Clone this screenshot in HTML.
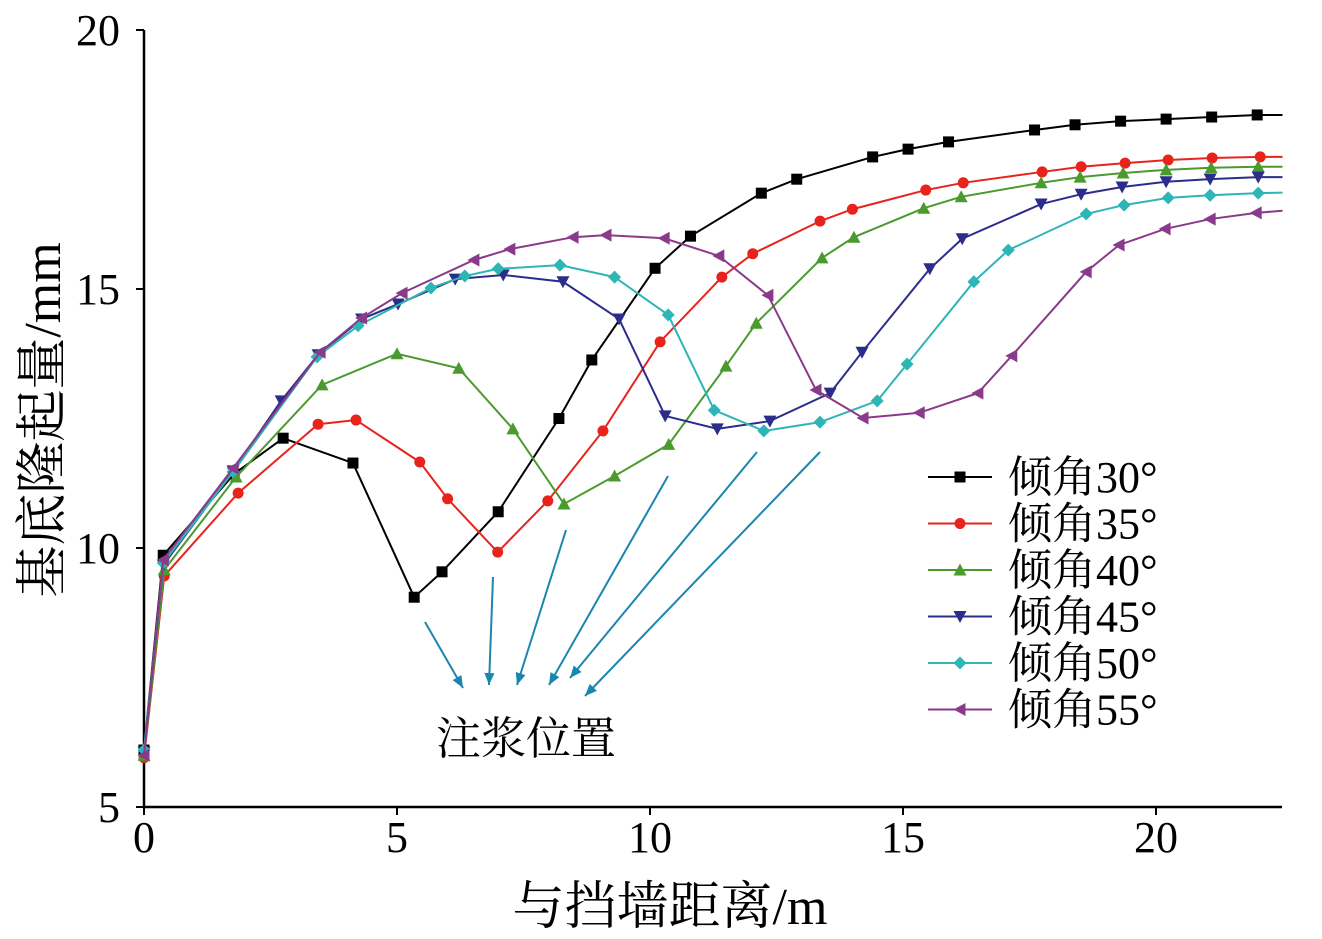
<!DOCTYPE html>
<html><head><meta charset="utf-8"><style>
html,body{margin:0;padding:0;background:#fff;}
svg{display:block;font-family:"Liberation Serif","Noto Serif CJK SC","Noto Sans CJK SC",serif;}
</style></head><body>
<svg id="chart" width="1322" height="939" viewBox="0 0 1322 939" xmlns="http://www.w3.org/2000/svg"></svg>
<script>
const xTicks=[0,5,10,15,20];
const yTicks=[5,10,15,20];
const seriesNames=["倾角30°","倾角35°","倾角40°","倾角45°","倾角50°","倾角55°"];
const x30=[0,0.38,1.78,2.75,4.13,5.34,5.89,7.0,8.2,8.85,10.1,10.8,12.2,12.9,14.4,15.1,15.9,17.6,18.4,19.3,20.2,21.1,22.0,22.5];
const y30=[6.1,9.86,11.43,12.12,11.64,9.05,9.54,10.7,12.5,13.63,15.4,16.02,16.85,17.12,17.55,17.7,17.84,18.07,18.17,18.24,18.28,18.32,18.36,18.36];
const x35=[0,0.4,1.86,3.44,4.19,5.45,6.0,6.99,7.98,9.07,10.2,11.42,12.03,13.36,14.0,15.45,16.19,17.75,18.52,19.39,20.24,21.11,22.06,22.5];
const y35=[5.95,9.46,11.06,12.39,12.47,11.66,10.95,9.92,10.91,12.26,13.98,15.23,15.68,16.31,16.54,16.91,17.05,17.26,17.36,17.43,17.49,17.53,17.55,17.55];
const x40=[0,0.4,1.82,3.52,5.0,6.22,7.29,8.3,9.3,10.37,11.5,12.1,13.4,14.03,15.41,16.15,17.73,18.5,19.35,20.2,21.09,22.02,22.5];
const y40=[6.0,9.58,11.37,13.15,13.75,13.47,12.3,10.85,11.39,12.0,13.51,14.34,15.6,16.0,16.56,16.78,17.05,17.16,17.24,17.3,17.34,17.36,17.36];
const x45=[0,0.38,1.76,2.71,3.44,4.3,5.02,6.15,7.1,8.28,9.39,10.3,11.33,12.37,13.56,14.19,15.53,16.17,17.73,18.52,19.33,20.2,21.07,22.02,22.5];
const y45=[6.06,9.67,11.49,12.84,13.73,14.42,14.71,15.19,15.27,15.14,14.42,12.55,12.3,12.45,12.99,13.78,15.39,15.97,16.64,16.83,16.97,17.07,17.12,17.16,17.16];
const x50=[0,0.38,1.76,3.42,4.23,5.67,6.34,7.0,8.22,9.3,10.36,11.27,12.25,13.36,14.49,15.08,16.4,17.08,18.62,19.37,20.24,21.07,22.02,22.5];
const y50=[6.1,9.71,11.47,13.69,14.29,15.02,15.25,15.39,15.46,15.23,14.5,12.66,12.26,12.43,12.84,13.55,15.14,15.75,16.45,16.62,16.76,16.81,16.85,16.86];
const x55=[0,0.38,1.76,3.48,4.3,5.1,6.52,7.23,8.48,9.13,10.28,11.36,12.33,13.28,14.21,15.32,16.48,17.15,18.62,19.27,20.18,21.07,21.98,22.5];
const y55=[6.0,9.77,11.54,13.78,14.44,14.92,15.56,15.77,16.0,16.04,15.98,15.64,14.88,13.05,12.51,12.61,12.99,13.71,15.33,15.85,16.16,16.35,16.47,16.51];
const xs=[x30,x35,x40,x45,x50,x55], ys=[y30,y35,y40,y45,y50,y55];
const colors=["#000000","#e8231c","#4a9a2e","#2c2c8a","#2eb5b5","#8a3a8a"];
const markers=["square","circle","up","down","diamond","left"];
const NS="http://www.w3.org/2000/svg";
const svg=document.getElementById('chart');
const X=v=>144+v*50.6, Y=v=>30+(20-v)*51.8;
function mk(t,a,p){const e=document.createElementNS(NS,t);for(const k in a)e.setAttribute(k,a[k]);(p||svg).appendChild(e);return e;}
let ax=mk('path',{d:`M144,30 V807 H1282`,fill:'none',stroke:'#000','stroke-width':2.5});


xTicks.forEach(t=>{
 const l=mk('line',{x1:X(t),x2:X(t),y1:807,y2:815,stroke:'#000','stroke-width':2});
 
 
 const tx=mk('text',{x:X(t),y:852,'font-size':44,'text-anchor':'middle'});tx.textContent=t;
 
 
});
yTicks.forEach(t=>{
 const l=mk('line',{x1:136,x2:144,y1:Y(t),y2:Y(t),stroke:'#000','stroke-width':2});
 
 
 const tx=mk('text',{x:120,y:Y(t)+15,'font-size':44,'text-anchor':'end'});tx.textContent=t;
 
 
});
const xt=mk('text',{x:670,y:924,'font-size':52,'text-anchor':'middle'});xt.textContent='与挡墙距离/m';


const yt=mk('text',{x:0,y:0,'font-size':52,'text-anchor':'middle',transform:'translate(60,420) rotate(-90)'});yt.textContent='基底隆起量/mm';


function marker(type,x,y,c,g){
 const s=5.5;let e;
 if(type==='square')e=mk('rect',{x:x-s,y:y-s,width:2*s,height:2*s,fill:c},g);
 else if(type==='circle')e=mk('circle',{cx:x,cy:y,r:s,fill:c},g);
 else{let p;
  if(type==='up')p=[[x,y-s-1],[x-s-1,y+s],[x+s+1,y+s]];
  else if(type==='down')p=[[x,y+s+1],[x-s-1,y-s],[x+s+1,y-s]];
  else if(type==='left')p=[[x-s-1,y],[x+s,y-s-1],[x+s,y+s+1]];
  else p=[[x,y-s-1],[x+s+1,y],[x,y+s+1],[x-s-1,y]];
  e=mk('polygon',{points:p.map(q=>q.join(',')).join(' '),fill:c},g);}
 
 
}
xs.forEach((xa,i)=>{
 const g=mk('g',{});
 
 
 mk('polyline',{points:xa.map((v,j)=>X(v)+','+Y(ys[i][j])).join(' '),fill:'none',stroke:colors[i],'stroke-width':2},g);
 xa.forEach((v,j)=>{ if(v<22.4) marker(markers[i],X(v),Y(ys[i][j]),colors[i],g);});
 const ly=477+i*46.5;
 const lg=mk('g',{});
 
 
 mk('line',{x1:928,x2:992,y1:ly,y2:ly,stroke:colors[i],'stroke-width':2},lg);
 marker(markers[i],960,ly,colors[i],lg);
 const t=mk('text',{x:1008,y:ly+15,'font-size':44},lg);t.textContent=seriesNames[i];
});
const arrows=[[425,622,463,688],[493,577,489,685],[566,530,517,685],[668,476,549,685],[757,452,570,678],[820,452,585,696]];
const ag=mk('g',{});


arrows.forEach(a=>{
 mk('line',{x1:a[0],y1:a[1],x2:a[2],y2:a[3],stroke:'#1a86b0','stroke-width':2},ag);
 const ang=Math.atan2(a[3]-a[1],a[2]-a[0]),L=13,w=0.4;
 const p=[[a[2],a[3]],[a[2]-L*Math.cos(ang-w),a[3]-L*Math.sin(ang-w)],[a[2]-L*Math.cos(ang+w),a[3]-L*Math.sin(ang+w)]];
 mk('polygon',{points:p.map(q=>q.join(',')).join(' '),fill:'#1a86b0'},ag);
});
const gt=mk('text',{x:526,y:754,'font-size':45,'text-anchor':'middle'});gt.textContent='注浆位置';


</script>
</body></html>
